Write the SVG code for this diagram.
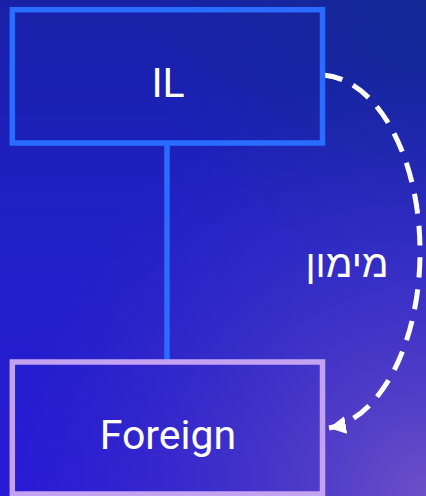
<svg xmlns="http://www.w3.org/2000/svg" width="426" height="496" viewBox="0 0 426 496">
  <defs>
    <linearGradient id="bg" x1="0" y1="0" x2="0" y2="1">
      <stop offset="0" stop-color="#1821a6"/>
      <stop offset="0.5" stop-color="#2020c8"/>
      <stop offset="1" stop-color="#2a1ad6"/>
    </linearGradient>
    <radialGradient id="glow" cx="426" cy="496" r="420" gradientUnits="userSpaceOnUse">
      <stop offset="0" stop-color="#6c50c8" stop-opacity="1"/>
      <stop offset="0.45" stop-color="#5040c2" stop-opacity="0.6"/>
      <stop offset="1" stop-color="#3a30c0" stop-opacity="0"/>
    </radialGradient>
    <radialGradient id="dark" cx="426" cy="0" r="280" gradientUnits="userSpaceOnUse">
      <stop offset="0" stop-color="#132a94" stop-opacity="0.9"/>
      <stop offset="1" stop-color="#132a94" stop-opacity="0"/>
    </radialGradient>
    <marker id="arrow" markerUnits="userSpaceOnUse" markerWidth="20" markerHeight="20" refX="17" refY="9" orient="auto">
      <path d="M0,0 L17,9 L0,18 Z" fill="#ffffff"/>
    </marker>
    <style>
      .box { fill: none; stroke-width: 5.5; }
      .label { font-family: Roboto, "Liberation Sans", sans-serif; font-size: 41px; fill: #ffffff; text-anchor: middle; }
      .edge-label { font-family: "Liberation Sans", "DejaVu Sans", sans-serif; font-size: 39px; fill: #ffffff; text-anchor: middle; }
    </style>
  </defs>
  <rect width="426" height="496" fill="url(#bg)"/>
  <rect width="426" height="496" fill="url(#dark)"/>
  <rect width="426" height="496" fill="url(#glow)"/>

  <g id="connectors">
    <line x1="167" y1="143" x2="167" y2="362" stroke="#2a6cff" stroke-width="5.5"/>
    <path d="M323,75 A101,177 0 0 1 329,428" fill="none" stroke="#ffffff" stroke-width="5" stroke-dasharray="20 12" marker-end="url(#arrow)"/>
    <text class="edge-label" x="347" y="277">מימון</text>
  </g>

  <g id="node-il">
    <rect class="box" x="12.3" y="9.7" width="310.2" height="133.3" stroke="#2a6cff"/>
    <text class="label" x="168" y="96.5">IL</text>
  </g>

  <g id="node-foreign">
    <rect class="box" x="12.3" y="362" width="310.2" height="132" stroke="#c4a2f2"/>
    <text class="label" x="168" y="448.5">Foreign</text>
  </g>
</svg>
